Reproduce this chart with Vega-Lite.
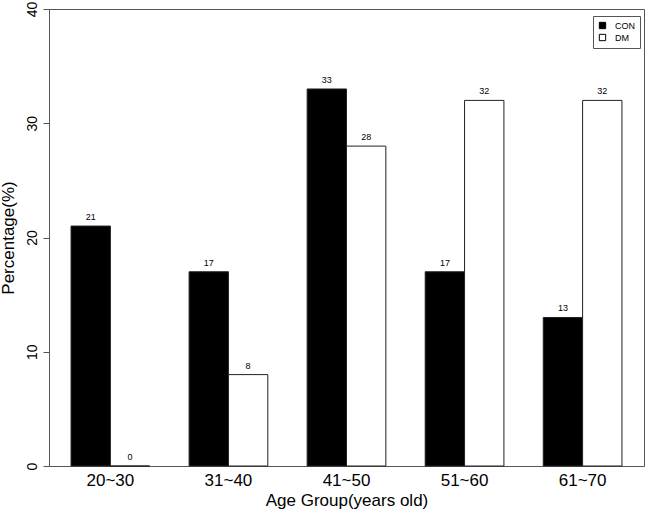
{
  "$schema": "https://vega.github.io/schema/vega-lite/v6.json",
  "width": 595,
  "height": 457,
  "autosize": {"type": "none"},
  "padding": {"left": 49, "top": 9, "right": 6, "bottom": 47},
  "background": "white",
  "config": {
    "font": "Liberation Sans",
    "view": {"stroke": "#555", "strokeWidth": 1},
    "axis": {"grid": false}
  },
  "data": {
    "values": [
      {"age": "20~30", "group": "CON", "pct": 21},
      {"age": "20~30", "group": "DM", "pct": 0},
      {"age": "31~40", "group": "CON", "pct": 17},
      {"age": "31~40", "group": "DM", "pct": 8},
      {"age": "41~50", "group": "CON", "pct": 33},
      {"age": "41~50", "group": "DM", "pct": 28},
      {"age": "51~60", "group": "CON", "pct": 17},
      {"age": "51~60", "group": "DM", "pct": 32},
      {"age": "61~70", "group": "CON", "pct": 13},
      {"age": "61~70", "group": "DM", "pct": 32}
    ]
  },
  "encoding": {
    "x": {
      "field": "age",
      "type": "nominal",
      "sort": null,
      "scale": {"paddingInner": 0.3333, "paddingOuter": 0.1867},
      "axis": {
        "title": "Age Group(years old)",
        "titleFontSize": 17,
        "titleFontWeight": "normal",
        "titleColor": "#000",
        "titlePadding": 4,
        "labelAngle": 0,
        "labelFontSize": 17,
        "labelColor": "#000",
        "labelPadding": 6,
        "domain": false,
        "ticks": false
      }
    },
    "xOffset": {
      "field": "group",
      "type": "nominal",
      "sort": ["CON", "DM"],
      "scale": {"paddingInner": 0, "paddingOuter": 0}
    },
    "y": {
      "field": "pct",
      "type": "quantitative",
      "scale": {"domain": [0, 40], "nice": false},
      "axis": {
        "title": "Percentage(%)",
        "titleFontSize": 17,
        "titleFontWeight": "normal",
        "titleColor": "#000",
        "titlePadding": 8,
        "values": [0, 10, 20, 30, 40],
        "labelAngle": 270,
        "labelAlign": "center",
        "labelBaseline": "bottom",
        "labelFontSize": 14,
        "labelColor": "#000",
        "labelPadding": 4,
        "tickSize": 6,
        "tickColor": "#555",
        "domain": false
      }
    }
  },
  "layer": [
    {
      "mark": {"type": "bar", "stroke": "#222", "strokeWidth": 1},
      "encoding": {
        "fill": {
          "field": "group",
          "type": "nominal",
          "scale": {"domain": ["CON", "DM"], "range": ["#000000", "#ffffff"]},
          "legend": {
            "title": null,
            "orient": "none",
            "legendX": 544,
            "legendY": 7,
            "fillColor": "white",
            "strokeColor": "#555",
            "padding": 5,
            "symbolType": "square",
            "symbolSize": 40,
            "symbolStrokeColor": "#000",
            "symbolStrokeWidth": 1,
            "labelFontSize": 9,
            "labelColor": "#000",
            "rowPadding": 1,
            "labelOffset": 8
          }
        }
      }
    },
    {
      "mark": {"type": "text", "baseline": "bottom", "dy": -4, "fontSize": 9, "color": "#000"},
      "encoding": {
        "text": {"field": "pct", "type": "quantitative"}
      }
    }
  ]
}
